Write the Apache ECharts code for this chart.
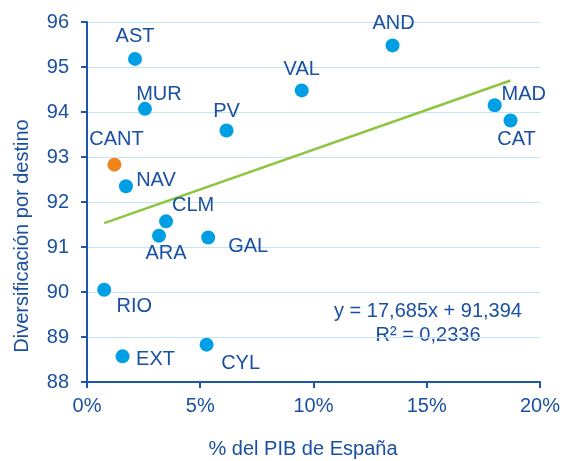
<!DOCTYPE html>
<html>
<head>
<meta charset="utf-8">
<script src="https://cdn.jsdelivr.net/npm/echarts@6/dist/echarts.min.js"></script>
<style>
  html, body { margin: 0; padding: 0; background: #fff; }
  #chart { width: 563px; height: 461px; }
</style>
</head>
<body>
<div id="chart"></div>
<script>
// regions, % of Spanish GDP, diversification by destination
var regions = ['AST', 'MUR', 'PV', 'CANT', 'NAV', 'CLM', 'VAL', 'AND', 'MAD', 'CAT', 'ARA', 'GAL', 'RIO', 'EXT', 'CYL'];
var pibShare = [2.12, 2.56, 6.16, 1.21, 1.72, 3.49, 9.48, 13.49, 18.0, 18.7, 3.18, 5.35, 0.76, 1.57, 5.28];
var diversif = [95.18, 94.07, 93.59, 92.83, 92.35, 91.57, 94.48, 95.48, 94.15, 93.81, 91.25, 91.21, 90.05, 88.57, 88.83];
var highlighted = ['CANT'];

// linear trend endpoints
var trendX = [0.76, 18.7];
var trendY = [91.53, 94.70];

var xTicks = [0, 5, 10, 15, 20];
var yTicks = [88, 89, 90, 91, 92, 93, 94, 95, 96];

var equationText = 'y = 17,685x + 91,394';
var r2Text = 'R² = 0,2336';

// label offsets (px) relative to the marker centre
var labelOffset = {
  AST: [0, -22], MUR: [14, -14], PV: [0, -19], CANT: [2, -25], NAV: [30, -6],
  CLM: [27, -16], VAL: [0, -21], AND: [1, -22], MAD: [29, -11], CAT: [6, 19],
  ARA: [7, 18], GAL: [40, 9], RIO: [30, 17], EXT: [33, 3], CYL: [34, 19]
};

var textColor = '#1a50a2';
var axisColor = '#1d56ab';
var dotBlue = '#009fe3';
var dotOrange = '#f0841c';
var fontFam = '"Liberation Sans", Arial, sans-serif';

var points = regions.map(function (r, i) {
  return {
    name: r,
    value: [pibShare[i], diversif[i]],
    itemStyle: { color: highlighted.indexOf(r) >= 0 ? dotOrange : dotBlue, opacity: 1 },
    label: { offset: labelOffset[r] }
  };
});

var chart = echarts.init(document.getElementById('chart'));
chart.setOption({
  animation: false,
  textStyle: { fontFamily: fontFam },
  grid: { left: 87, right: 23, top: 22, bottom: 79 },
  xAxis: {
    type: 'value',
    min: xTicks[0], max: xTicks[xTicks.length - 1], interval: 5,
    axisLine: { lineStyle: { color: axisColor, width: 2 } },
    axisTick: { show: true, length: 6, lineStyle: { color: axisColor, width: 2 } },
    splitLine: { show: false },
    axisLabel: { color: textColor, fontSize: 20, margin: 14, formatter: '{value}%' }
  },
  yAxis: {
    type: 'value',
    min: yTicks[0], max: yTicks[yTicks.length - 1], interval: 1,
    axisLine: { show: true, lineStyle: { color: axisColor, width: 2 } },
    axisTick: { show: true, length: 6, lineStyle: { color: axisColor, width: 2 } },
    splitLine: { lineStyle: { color: '#c3e6f6', width: 1 } },
    axisLabel: { color: textColor, fontSize: 20, margin: 18 }
  },
  series: [
    {
      type: 'line',
      data: trendX.map(function (x, i) { return [x, trendY[i]]; }),
      symbol: 'none',
      lineStyle: { color: '#8cc63f', width: 2.5 },
      z: 2
    },
    {
      type: 'scatter',
      data: points,
      symbolSize: 14,
      z: 3,
      itemStyle: { opacity: 1 },
      label: {
        show: true,
        position: 'inside',
        formatter: '{b}',
        color: textColor,
        opacity: 1,
        fontSize: 20,
        align: 'center',
        verticalAlign: 'middle'
      }
    }
  ],
  graphic: [
    {
      type: 'text', x: 428, y: 311,
      style: { text: equationText, fill: textColor, font: '20px ' + fontFam, align: 'center', verticalAlign: 'middle' }
    },
    {
      type: 'text', x: 428, y: 335,
      style: { text: r2Text, fill: textColor, font: '20px ' + fontFam, align: 'center', verticalAlign: 'middle' }
    },
    {
      type: 'text', x: 303, y: 449,
      style: { text: '% del PIB de España', fill: textColor, font: '20px ' + fontFam, align: 'center', verticalAlign: 'middle' }
    },
    {
      type: 'text', x: 22, y: 236, rotation: Math.PI / 2,
      style: { text: 'Diversificación por destino', fill: textColor, font: '20px ' + fontFam, align: 'center', verticalAlign: 'middle' }
    }
  ]
});
</script>
</body>
</html>
